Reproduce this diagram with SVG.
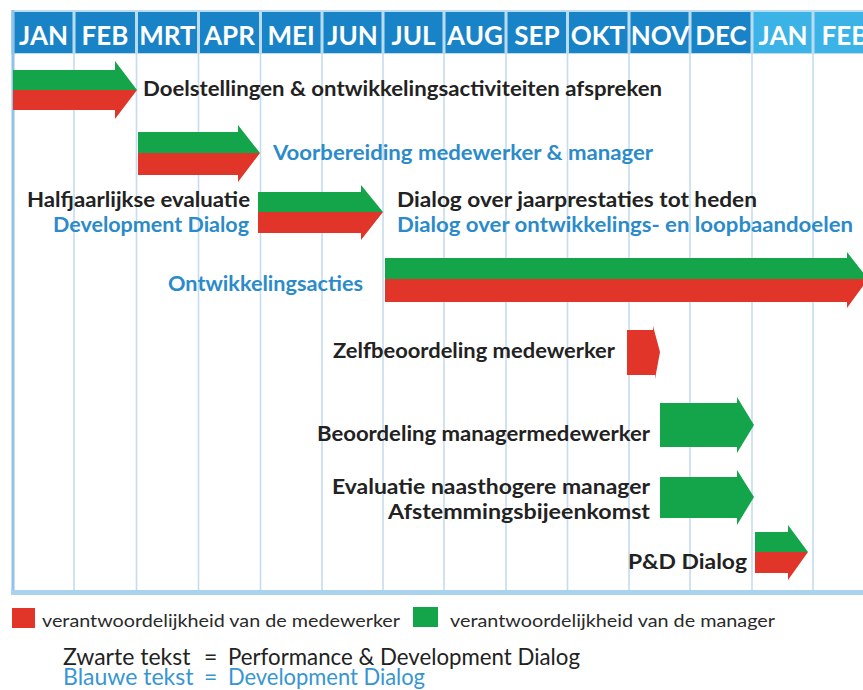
<svg xmlns="http://www.w3.org/2000/svg" width="863" height="690" viewBox="0 0 863 690">
<defs>
<style>
.hd{fill:#1883c7}
.hd2{fill:#3bb3e6}
.ht{font-family:Lato,"Open Sans","DejaVu Sans",sans-serif;font-weight:bold;font-size:26px;fill:#ffffff;text-anchor:middle}
.grid{stroke:#c6dcee;stroke-width:1.6}
.bk{font-family:Lato,"Open Sans","DejaVu Sans",sans-serif;font-weight:bold;font-size:20px;fill:#222222}
.bl{font-family:Lato,"Open Sans","DejaVu Sans",sans-serif;font-weight:bold;font-size:20px;fill:#2b8bca}
.end{text-anchor:end}
.g{fill:#14a54b}
.r{fill:#e1352a}
.lg{font-family:Lato,"Open Sans","DejaVu Sans",sans-serif;font-size:18px;fill:#2a2a2a}
.lk{font-family:Lato,"Open Sans","DejaVu Sans",sans-serif;font-size:23px;fill:#222222}
.lb{font-family:Lato,"Open Sans","DejaVu Sans",sans-serif;font-size:23px;fill:#3796d2}
</style>
</defs>
<rect x="0" y="0" width="863" height="690" fill="#ffffff"/>

<g id="grid">
<rect x="11" y="10" width="852" height="44" fill="#b9dcf2"/>
<line class="grid" x1="74" y1="54" x2="74" y2="591"/>
<line class="grid" x1="136.5" y1="54" x2="136.5" y2="591"/>
<line class="grid" x1="198.5" y1="54" x2="198.5" y2="591"/>
<line class="grid" x1="260.5" y1="54" x2="260.5" y2="591"/>
<line class="grid" x1="322" y1="54" x2="322" y2="591"/>
<line class="grid" x1="383" y1="54" x2="383" y2="591"/>
<line class="grid" x1="444" y1="54" x2="444" y2="591"/>
<line class="grid" x1="506" y1="54" x2="506" y2="591"/>
<line class="grid" x1="567.5" y1="54" x2="567.5" y2="591"/>
<line class="grid" x1="629" y1="54" x2="629" y2="591"/>
<line class="grid" x1="690" y1="54" x2="690" y2="591"/>
<line class="grid" x1="752" y1="54" x2="752" y2="591"/>
<line class="grid" x1="813" y1="54" x2="813" y2="591"/>
<line x1="13" y1="10" x2="13" y2="594" stroke="#8fc3e7" stroke-width="3"/>
<rect x="11" y="590" width="852" height="5" fill="#a9d2ee"/>
</g>

<g id="header">
<rect class="hd" x="14.5" y="12" width="58" height="41"/>
<rect class="hd" x="75.5" y="12" width="59.5" height="41"/>
<rect class="hd" x="138" y="12" width="59" height="41"/>
<rect class="hd" x="200" y="12" width="59" height="41"/>
<rect class="hd" x="262" y="12" width="58.5" height="41"/>
<rect class="hd" x="323.5" y="12" width="58" height="41"/>
<rect class="hd" x="384.5" y="12" width="58" height="41"/>
<rect class="hd" x="445.5" y="12" width="59" height="41"/>
<rect class="hd" x="507.5" y="12" width="58.5" height="41"/>
<rect class="hd" x="569" y="12" width="58.5" height="41"/>
<rect class="hd" x="630.5" y="12" width="58" height="41"/>
<rect class="hd" x="691.5" y="12" width="59" height="41"/>
<rect class="hd2" x="753.5" y="12" width="58" height="41"/>
<rect class="hd2" x="814.5" y="12" width="48.5" height="41"/>
<text class="ht" x="43.5" y="45">JAN</text>
<text class="ht" x="105" y="45">FEB</text>
<text class="ht" x="167.5" y="45">MRT</text>
<text class="ht" x="229.5" y="45">APR</text>
<text class="ht" x="291" y="45">MEI</text>
<text class="ht" x="352.5" y="45">JUN</text>
<text class="ht" x="413.5" y="45">JUL</text>
<text class="ht" x="475" y="45">AUG</text>
<text class="ht" x="537" y="45">SEP</text>
<text class="ht" x="598" y="45">OKT</text>
<text class="ht" x="660" y="45">NOV</text>
<text class="ht" x="721" y="45">DEC</text>
<text class="ht" x="783" y="45">JAN</text>
<text class="ht" x="845" y="45">FEB</text>
</g>

<g id="doelstellingen">
<polygon class="r" points="13,90 137,90 115,119 115,110 13,110"/>
<polygon class="g" points="13,70 115,70 115,61 137,90 13,90"/>
<text class="bk" x="143" y="96" textLength="519" lengthAdjust="spacingAndGlyphs">Doelstellingen &amp; ontwikkelingsactiviteiten afspreken</text>
</g>

<g id="voorbereiding">
<polygon class="r" points="138,153 260,153 238,182 238,175 138,175"/>
<polygon class="g" points="138,132 238,132 238,125 260,153 138,153"/>
<text class="bl" x="273" y="160" textLength="380" lengthAdjust="spacingAndGlyphs">Voorbereiding medewerker &amp; manager</text>
</g>

<g id="halfjaarlijkse">
<polygon class="r" points="258,212 383,212 361,240 361,233 258,233"/>
<polygon class="g" points="258,192 361,192 361,185 383,212 258,212"/>
<text class="bk end" x="250" y="207" textLength="223" lengthAdjust="spacingAndGlyphs">Halfjaarlijkse evaluatie</text>
<text class="bl end" x="249" y="232" textLength="196" lengthAdjust="spacingAndGlyphs">Development Dialog</text>
<text class="bk" x="397" y="207" textLength="360" lengthAdjust="spacingAndGlyphs">Dialog over jaarprestaties tot heden</text>
<text class="bl" x="397" y="232" textLength="456" lengthAdjust="spacingAndGlyphs">Dialog over ontwikkelings- en loopbaandoelen</text>
</g>

<g id="ontwikkelingsacties">
<polygon class="r" points="385,279 868,279 847,308 847,302 385,302"/>
<polygon class="g" points="385,258 847,258 847,252 868,279 385,279"/>
<text class="bl end" x="363" y="291" textLength="195" lengthAdjust="spacingAndGlyphs">Ontwikkelingsacties</text>
</g>

<g id="zelfbeoordeling">
<polygon class="r" points="627,330 653,330 653,326 660,352 655,379 655,375 627,375"/>
<text class="bk" x="333" y="358" textLength="282" lengthAdjust="spacingAndGlyphs">Zelfbeoordeling medewerker</text>
</g>

<g id="beoordeling">
<polygon class="g" points="660,403 737,403 737,397 754,425 737,453 737,447 660,447"/>
<text class="bk" x="317" y="441" textLength="333" lengthAdjust="spacingAndGlyphs">Beoordeling managermedewerker</text>
</g>

<g id="evaluatie">
<polygon class="g" points="660,477 737,477 737,470 754,497 737,525 737,518 660,518"/>
<text class="bk" x="332" y="494" textLength="318" lengthAdjust="spacingAndGlyphs">Evaluatie naasthogere manager</text>
<text class="bk" x="388" y="519" textLength="262" lengthAdjust="spacingAndGlyphs">Afstemmingsbijeenkomst</text>
</g>

<g id="pd-dialog">
<polygon class="r" points="755,552 808,552 788,580 788,573 755,573"/>
<polygon class="g" points="755,532 788,532 788,525 808,552 755,552"/>
<text class="bk" x="628" y="569" textLength="119" lengthAdjust="spacingAndGlyphs">P&amp;D Dialog</text>
</g>

<g id="legend">
<rect class="r" x="12" y="608" width="23" height="20"/>
<text class="lg" x="42" y="627" textLength="358" lengthAdjust="spacingAndGlyphs">verantwoordelijkheid van de medewerker</text>
<rect class="g" x="413" y="607" width="25" height="20"/>
<text class="lg" x="450" y="627" textLength="325" lengthAdjust="spacingAndGlyphs">verantwoordelijkheid van de manager</text>
<text class="lk" x="63" y="665">Zwarte tekst</text>
<text class="lk" x="204" y="665">=</text>
<text class="lk" x="228" y="665" textLength="352" lengthAdjust="spacingAndGlyphs">Performance &amp; Development Dialog</text>
<text class="lb" x="63" y="685">Blauwe tekst</text>
<text class="lb" x="204" y="685">=</text>
<text class="lb" x="228" y="685" textLength="197" lengthAdjust="spacingAndGlyphs">Development Dialog</text>
</g>
</svg>
